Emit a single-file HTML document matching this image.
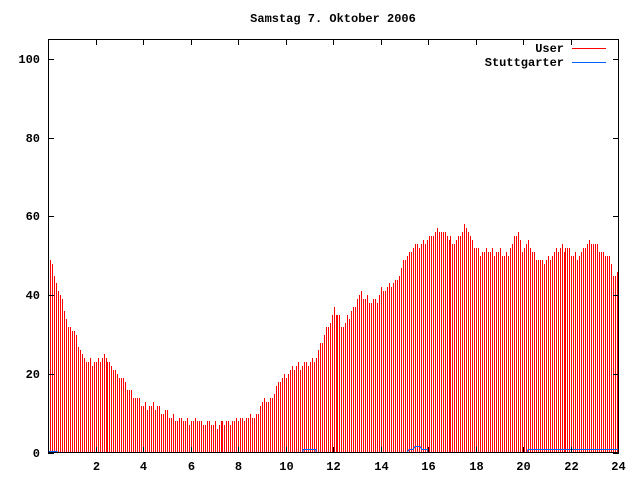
<!DOCTYPE html>
<html><head><meta charset="utf-8"><style>
html,body{margin:0;padding:0;background:#fff;width:640px;height:480px;overflow:hidden}
text{font-family:"Liberation Mono",monospace;font-weight:bold;font-size:12px;fill:#000}
</style></head><body>
<svg id="s" width="640" height="480" xmlns="http://www.w3.org/2000/svg">
<g id="bars"></g>
<polyline fill="none" stroke="#0060ff" stroke-width="1" points="48,451.5 57,451.5 57,452.5 303,452.5 303,449.5 316,449.5 316,452.5 407,452.5 409,449.5 413,449.5 415,446.5 420,446.5 422,449.5 428,449.5 428,452.5 527,452.5 528,449.5 618,449.5"/>
<rect x="48.5" y="39.5" width="570" height="413" fill="none" stroke="#000" stroke-width="1"/>
<g id="ticks" stroke="#000" stroke-width="1"></g>
<text x="333" y="22" text-anchor="middle">Samstag 7. Oktober 2006</text>
<g id="labels"></g>
<text x="564" y="52" text-anchor="end">User</text>
<line x1="572" y1="48.5" x2="606" y2="48.5" stroke="#ff0000"/>
<text x="564" y="66" text-anchor="end">Stuttgarter</text>
<line x1="572" y1="62.5" x2="606" y2="62.5" stroke="#0060ff"/>
</svg>
<script>
var A=[[0,50],[0.15,49],[0.3,43],[0.5,40],[0.7,36],[0.85,31],[1.1,31],[1.3,27],[1.5,23],[1.7,23],[2.2,23],[2.4,25],[2.6,22],[2.9,20],[3.2,18],[3.5,15],[3.7,14],[4.0,12],[4.5,12],[5.0,10],[5.3,9],[5.8,8],[6.3,8],[7.0,7],[7.9,8],[8.2,9],[8.7,9],[9.0,13],[9.2,13],[9.5,15],[9.8,19],[10.0,20],[10.5,22],[11.0,23],[11.3,24],[11.6,30],[11.9,34],[12.0,36],[12.2,35],[12.4,32],[12.8,36],[13.1,40],[13.5,39],[13.8,38],[14.0,41],[14.3,42],[14.6,43],[15.0,49],[15.3,52],[15.7,53],[16.2,55],[16.5,57],[16.8,55],[17.1,53],[17.4,56],[17.6,58],[17.8,54],[18.2,51],[18.5,51],[19.0,51],[19.3,50],[19.6,54],[19.8,56],[19.9,52],[20.2,53],[20.5,50],[20.8,48],[21.1,50],[21.5,52],[21.8,52],[22.2,50],[22.5,51],[22.8,54],[23.0,53],[23.3,51],[23.6,50],[23.8,45],[24,45]];
function f(h){for(var i=1;i<A.length;i++){if(h<=A[i][0]){var a=A[i-1],b=A[i];return a[1]+(b[1]-a[1])*(h-a[0])/(b[0]-a[0]);}}return 45;}
var sc=(453-39)/105,px=(618-48)/24,out="";
for(var i=0;i<288;i++){var x=50+Math.floor(i*571/288+0.5);if(x>618)break;var h=(x-48)/px;var v=Math.round(f(h)+(((i*37)%7)-3)*0.25);var y=Math.round(453-v*sc);out+='<line x1="'+(x+0.5)+'" y1="452" x2="'+(x+0.5)+'" y2="'+y+'" stroke="#ff0000"/>';}
document.getElementById('bars').innerHTML=out;
var t="",l="";
for(var k=0;k<=5;k++){var y=453-k*20*sc;var yy=Math.round(y)+0.5;t+='<line x1="48" y1="'+yy+'" x2="54" y2="'+yy+'"/><line x1="613" y1="'+yy+'" x2="619" y2="'+yy+'"/>';l+='<text x="40" y="'+(Math.round(y)+4)+'" text-anchor="end">'+(k*20)+'</text>';}
for(var h=2;h<=24;h+=2){var x=Math.round(48+h*px)+0.5;t+='<line x1="'+x+'" y1="453" x2="'+x+'" y2="447"/><line x1="'+x+'" y1="39" x2="'+x+'" y2="45"/>';l+='<text x="'+x+'" y="470" text-anchor="middle">'+h+'</text>';}
document.getElementById('ticks').innerHTML=t;document.getElementById('labels').innerHTML=l;
</script>
</body></html>
